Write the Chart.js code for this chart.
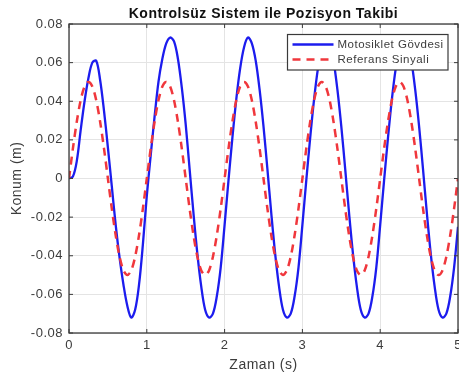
<!DOCTYPE html>
<html>
<head>
<meta charset="utf-8">
<script src="https://cdn.jsdelivr.net/npm/chart.js@4"></script>
<style>
  html, body { margin: 0; padding: 0; background: #ffffff; }
  #wrap { width: 459px; height: 374px; }
</style>
</head>
<body>
<div id="wrap"><canvas id="c" width="459" height="374"></canvas></div>
<script>
// ---------- DATA ----------
const chartTitle = 'Kontrolsüz Sistem ile Pozisyon Takibi';
const xTitle = 'Zaman (s)';
const yTitle = 'Konum (m)';
const seriesNames = ['Motosiklet Gövdesi', 'Referans Sinyali'];

const times = [
  0, 0.05, 0.1, 0.15, 0.2, 0.25, 0.3, 0.35, 0.4, 0.45, 0.5, 0.55, 0.6, 0.65, 0.7, 0.75, 0.8, 0.85, 0.9, 0.95,
  1, 1.05, 1.1, 1.15, 1.2, 1.25, 1.3, 1.35, 1.4, 1.45, 1.5, 1.55, 1.6, 1.65, 1.7, 1.75, 1.8, 1.85, 1.9, 1.95,
  2, 2.05, 2.1, 2.15, 2.2, 2.25, 2.3, 2.35, 2.4, 2.45, 2.5, 2.55, 2.6, 2.65, 2.7, 2.75, 2.8, 2.85, 2.9, 2.95,
  3, 3.05, 3.1, 3.15, 3.2, 3.25, 3.3, 3.35, 3.4, 3.45, 3.5, 3.55, 3.6, 3.65, 3.7, 3.75, 3.8, 3.85, 3.9, 3.95,
  4, 4.05, 4.1, 4.15, 4.2, 4.25, 4.3, 4.35, 4.4, 4.45, 4.5, 4.55, 4.6, 4.65, 4.7, 4.75, 4.8, 4.85, 4.9, 4.95,
  5
];

const bodyPosition = [
  0, 0.001, 0.009, 0.025, 0.040, 0.052, 0.060, 0.061, 0.051, 0.035, 0.016, -0.004, -0.024, -0.041, -0.055, -0.066, -0.072, -0.068, -0.055, -0.034,
  -0.009, 0.012, 0.032, 0.050, 0.062, 0.070, 0.073, 0.071, 0.062, 0.047, 0.028, 0.005, -0.018, -0.039, -0.056, -0.068, -0.072, -0.070, -0.061, -0.046,
  -0.024, -0.001, 0.021, 0.041, 0.057, 0.068, 0.073, 0.070, 0.061, 0.046, 0.027, 0.005, -0.018, -0.039, -0.056, -0.068, -0.072, -0.070, -0.061, -0.046,
  -0.024, -0.001, 0.021, 0.041, 0.057, 0.068, 0.073, 0.070, 0.061, 0.046, 0.027, 0.005, -0.018, -0.039, -0.056, -0.068, -0.072, -0.070, -0.061, -0.046,
  -0.024, -0.001, 0.021, 0.041, 0.057, 0.068, 0.073, 0.070, 0.061, 0.046, 0.027, 0.005, -0.018, -0.039, -0.056, -0.068, -0.072, -0.070, -0.061, -0.046,
  -0.025
];

const referenceSignal = [
  0, 0.0155, 0.0294, 0.0405, 0.0476, 0.05, 0.0476, 0.0405, 0.0294, 0.0155, 0, -0.0155, -0.0294, -0.0405, -0.0476, -0.05, -0.0476, -0.0405, -0.0294, -0.0155,
  0, 0.0155, 0.0294, 0.0405, 0.0476, 0.05, 0.0476, 0.0405, 0.0294, 0.0155, 0, -0.0155, -0.0294, -0.0405, -0.0476, -0.05, -0.0476, -0.0405, -0.0294, -0.0155,
  0, 0.0155, 0.0294, 0.0405, 0.0476, 0.05, 0.0476, 0.0405, 0.0294, 0.0155, 0, -0.0155, -0.0294, -0.0405, -0.0476, -0.05, -0.0476, -0.0405, -0.0294, -0.0155,
  0, 0.0155, 0.0294, 0.0405, 0.0476, 0.05, 0.0476, 0.0405, 0.0294, 0.0155, 0, -0.0155, -0.0294, -0.0405, -0.0476, -0.05, -0.0476, -0.0405, -0.0294, -0.0155,
  0, 0.0155, 0.0294, 0.0405, 0.0476, 0.05, 0.0476, 0.0405, 0.0294, 0.0155, 0, -0.0155, -0.0294, -0.0405, -0.0476, -0.05, -0.0476, -0.0405, -0.0294, -0.0155,
  0
];

const xTickValues = [0, 1, 2, 3, 4, 5];
const yTickValues = [-0.08, -0.06, -0.04, -0.02, 0, 0.02, 0.04, 0.06, 0.08];

// ---------- STYLE ----------
const BLUE = 'rgb(28,28,238)';
const RED = 'rgb(240,55,60)';
const TEXT = '#3c3c3c';
const FRAME = '#3a3a3a';
const GRID = '#e4e4e4';
const DASH = [8, 6];
const SPACING = '0.5px';

Chart.defaults.font.family = '"Liberation Sans", Arial, Helvetica, sans-serif';

function pairs(xs, ys) { return xs.map((x, i) => ({ x: x, y: ys[i] })); }

const spacingPlugin = {
  id: 'spacing',
  beforeUpdate(c) { c.ctx.letterSpacing = SPACING; },
  beforeLayout(c) { c.ctx.letterSpacing = SPACING; },
  beforeDraw(c) { c.ctx.letterSpacing = SPACING; }
};

const framePlugin = {
  id: 'frame',
  afterDatasetsDraw(c) {
    const ctx = c.ctx, a = c.chartArea;
    ctx.save();
    ctx.strokeStyle = FRAME;
    ctx.lineWidth = 1.3;
    ctx.setLineDash([]);
    ctx.strokeRect(a.left, a.top, a.right - a.left, a.bottom - a.top);
    const tl = 4;
    ctx.lineWidth = 1;
    ctx.beginPath();
    c.scales.x.ticks.forEach(t => {
      const px = c.scales.x.getPixelForValue(t.value);
      ctx.moveTo(px, a.bottom); ctx.lineTo(px, a.bottom - tl);
      ctx.moveTo(px, a.top); ctx.lineTo(px, a.top + tl);
    });
    c.scales.y.ticks.forEach(t => {
      const py = c.scales.y.getPixelForValue(t.value);
      ctx.moveTo(a.left, py); ctx.lineTo(a.left + tl, py);
      ctx.moveTo(a.right, py); ctx.lineTo(a.right - tl, py);
    });
    ctx.stroke();

    // legend box (drawn over the lines)
    const bw = 160.5, bh = 35.5;
    const bx = a.right - 170.5, by = a.top + 10.5;
    ctx.fillStyle = '#ffffff';
    ctx.fillRect(bx, by, bw, bh);
    ctx.strokeStyle = FRAME;
    ctx.lineWidth = 1.2;
    ctx.strokeRect(bx, by, bw, bh);
    const ds = c.data.datasets;
    const rows = [by + 10, by + 25];
    ds.forEach((d, i) => {
      const y = rows[i];
      ctx.beginPath();
      ctx.strokeStyle = d.borderColor;
      ctx.lineWidth = 2.4;
      ctx.setLineDash(d.borderDash || []);
      ctx.moveTo(bx + 5, y); ctx.lineTo(bx + 46, y);
      ctx.stroke();
      ctx.setLineDash([]);
      ctx.fillStyle = TEXT;
      ctx.font = '11.5px "Liberation Sans", Arial, sans-serif';
      ctx.letterSpacing = '0.5px';
      ctx.textAlign = 'left';
      ctx.textBaseline = 'middle';
      ctx.fillText(d.label, bx + 50, y + 0.5);
    });
    ctx.restore();
  }
};

new Chart(document.getElementById('c'), {
  type: 'line',
  data: {
    datasets: [
      {
        label: seriesNames[0],
        data: pairs(times, bodyPosition),
        borderColor: BLUE,
        backgroundColor: BLUE,
        borderWidth: 2.3,
        pointRadius: 0,
        tension: 0.35,
        fill: false,
        order: 1
      },
      {
        label: seriesNames[1],
        data: pairs(times, referenceSignal),
        borderColor: RED,
        backgroundColor: RED,
        borderWidth: 2.5,
        borderDash: DASH,
        pointRadius: 0,
        tension: 0.3,
        fill: false,
        order: 0
      }
    ]
  },
  options: {
    animation: false,
    responsive: false,
    devicePixelRatio: 1,
    events: [],
    layout: { padding: { left: 0, right: 1, top: 0, bottom: 0 } },
    plugins: {
      legend: { display: false },
      tooltip: { enabled: false },
      title: {
        display: true,
        text: chartTitle,
        fullSize: false,
        color: '#111111',
        font: { size: 14, weight: 'bold' },
        padding: { top: 5.6, bottom: 1.6 }
      }
    },
    scales: {
      x: {
        type: 'linear',
        min: xTickValues[0],
        max: xTickValues[xTickValues.length - 1],
        afterBuildTicks(s) { s.ticks = xTickValues.map(v => ({ value: v })); },
        ticks: {
          color: TEXT,
          font: { size: 13 },
          padding: 5,
          maxRotation: 0,
          autoSkip: false,
          callback: v => String(v)
        },
        grid: { color: GRID, drawTicks: false, lineWidth: 1 },
        border: { display: false },
        title: {
          display: true,
          text: xTitle,
          color: TEXT,
          font: { size: 14 },
          padding: { top: 0, bottom: 0 }
        },
        afterFit(s) { s.height = 41; s.paddingLeft = 0; s.paddingRight = 0; }
      },
      y: {
        type: 'linear',
        min: yTickValues[0],
        max: yTickValues[yTickValues.length - 1],
        afterBuildTicks(s) { s.ticks = yTickValues.map(v => ({ value: v })); },
        ticks: {
          color: TEXT,
          font: { size: 13 },
          padding: 6,
          autoSkip: false,
          callback: v => (Math.abs(v) < 1e-9 ? '0' : v.toFixed(2))
        },
        grid: { color: GRID, drawTicks: false, lineWidth: 1 },
        border: { display: false },
        title: {
          display: true,
          text: yTitle,
          color: TEXT,
          font: { size: 14 },
          padding: { top: 9, bottom: 0 }
        },
        afterFit(s) { s.width = 69; s.paddingTop = 0; s.paddingBottom = 0; }
      }
    }
  },
  plugins: [spacingPlugin, framePlugin]
});
</script>
</body>
</html>
